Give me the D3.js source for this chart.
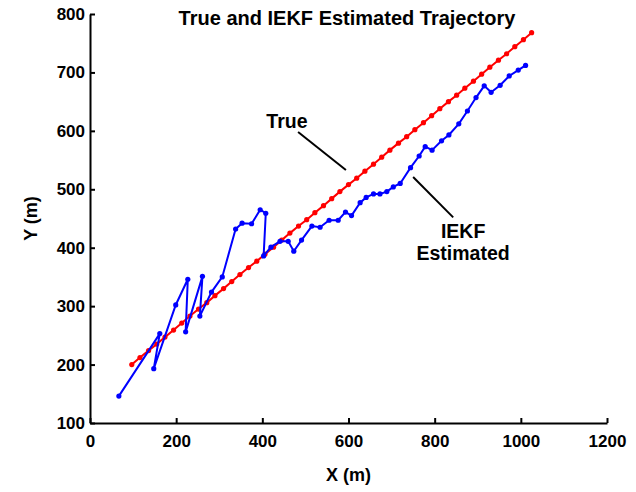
<!DOCTYPE html>
<html>
<head>
<meta charset="utf-8">
<script src="https://cdn.jsdelivr.net/npm/d3@7"></script>
<style>
  body { margin: 0; background: #fff; }
  svg { display: block; font-family: "Liberation Sans", Arial, sans-serif; font-weight: bold; }
</style>
</head>
<body>
<svg width="636" height="492"></svg>
<script>
// true trajectory (red)
var trueX = [97,116,136,155,174,194,213,232,252,271,290,310,329,348,368,387,406,426,445,464,
  484,503,522,542,561,580,600,619,638,658,677,696,716,735,754,774,793,812,832,851,
  870,890,909,928,948,967,986,1006,1025];
var trueY = [200,212,224,235,247,259,271,283,295,306,318,330,342,354,366,377,389,401,413,425,
  437,448,460,472,484,496,508,519,531,543,555,567,579,590,602,614,626,638,650,661,
  673,685,697,709,721,732,744,756,768];

// IEKF estimate (blue)
var estX = [67,162,148,199,227,222,261,255,282,307,338,353,375,395,408,403,420,441,460,473,
  491,515,534,555,576,593,607,627,641,658,673,689,704,720,744,764,778,794,816,833,
  856,876,896,915,931,952,973,994,1011];
var estY = [146,253,193,302,346,256,351,283,324,350,432,442,441,465,459,386,401,411,411,394,
  413,437,435,447,447,461,455,477,486,492,492,496,504,510,537,557,573,567,583,593,
  612,634,657,677,666,678,694,704,712];

var xTicks = [0,200,400,600,800,1000,1200];
var yTicks = [100,200,300,400,500,600,700,800];

var margin = {top: 14, right: 29, bottom: 69, left: 90},
    svgWidth = 636, svgHeight = 492,
    width = svgWidth - margin.left - margin.right,
    height = svgHeight - margin.top - margin.bottom;

var svg = d3.select("svg");
var g = svg.append("g").attr("transform", "translate(" + [margin.left, margin.top] + ")");

var x = d3.scaleLinear().domain([0, 1200]).range([0, width]);
var y = d3.scaleLinear().domain([100, 800]).range([height, 0]);

var xAxis = g.append("g")
    .attr("transform", "translate(0," + height + ")")
    .call(d3.axisBottom(x).tickValues(xTicks).tickFormat(d3.format("d"))
      .tickSizeInner(-5).tickSizeOuter(0).tickPadding(11));
var yAxis = g.append("g")
    .call(d3.axisLeft(y).tickValues(yTicks).tickFormat(d3.format("d"))
      .tickSizeInner(-5).tickSizeOuter(0).tickPadding(5));

[xAxis, yAxis].forEach(function(a) {
  a.select(".domain").attr("stroke", "#000").attr("stroke-width", 2);
  a.selectAll(".tick line").attr("stroke", "#000").attr("stroke-width", 2);
  a.selectAll(".tick text").attr("fill", "#000").style("font-size", "17px").style("font-weight", "bold");
});
xAxis.selectAll(".tick text").attr("dy", "0.75em");

function series(xs, ys, color) {
  var pts = xs.map(function(v, i) { return [x(v), y(ys[i])]; });
  g.append("path")
      .attr("d", d3.line()(pts))
      .attr("fill", "none")
      .attr("stroke", color)
      .attr("stroke-width", 2);
  g.append("g").selectAll("circle")
      .data(pts)
      .enter().append("circle")
      .attr("cx", function(d) { return d[0]; })
      .attr("cy", function(d) { return d[1]; })
      .attr("r", 2.6)
      .attr("fill", color);
}
series(trueX, trueY, "#ff0000");
series(estX, estY, "#0000ff");

// annotations (data coordinates)
function annot(x1, y1, x2, y2) {
  g.append("line")
      .attr("x1", x(x1)).attr("y1", y(y1))
      .attr("x2", x(x2)).attr("y2", y(y2))
      .attr("stroke", "#000").attr("stroke-width", 2);
}
annot(483, 598, 594, 533);
annot(750, 521, 843, 452);

function label(xv, yv, s) {
  g.append("text")
      .attr("x", x(xv)).attr("y", y(yv))
      .attr("text-anchor", "middle")
      .style("font-size", "19.5px")
      .text(s);
}
label(457, 605, "True");
label(866, 417, "IEKF");
label(866, 379, "Estimated");

svg.append("text")
    .attr("x", 347).attr("y", 25)
    .attr("text-anchor", "middle")
    .style("font-size", "20px")
    .text("True and IEKF Estimated Trajectory");

svg.append("text")
    .attr("x", margin.left + width / 2).attr("y", 481)
    .attr("text-anchor", "middle")
    .style("font-size", "18px")
    .text("X (m)");

svg.append("text")
    .attr("transform", "translate(37," + (margin.top + height / 2) + ") rotate(-90)")
    .attr("text-anchor", "middle")
    .style("font-size", "18px")
    .text("Y (m)");
</script>
</body>
</html>
